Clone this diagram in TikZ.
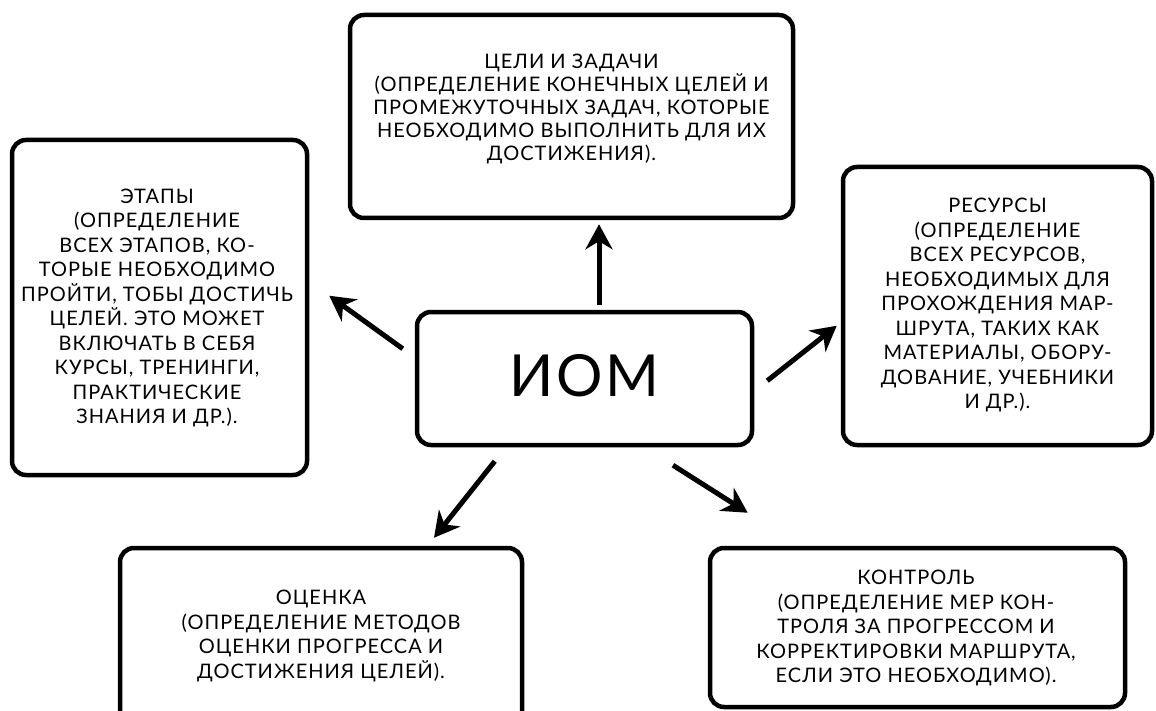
\documentclass[tikz,border=0pt]{standalone}
\usepackage{fontspec}
\setmainfont{Lato}[LetterSpace=5]
\usetikzlibrary{arrows.meta,calc}
\tikzset{
  frame/.style={draw=black, line width=4.5pt, rounded corners=14pt, fill=white, inner sep=0pt},
  txt/.style={align=center, font=\fontsize{20}{24.5}\selectfont, inner sep=0pt},
  txttop/.style={align=center, font=\fontsize{20}{23}\selectfont, inner sep=0pt},
  arr/.style={line width=5pt, -{Stealth[length=25pt,width=27pt,inset=8pt]}}
}
\begin{document}
\begin{tikzpicture}[x=1pt,y=-1pt]
\useasboundingbox[fill=white] (0,0) rectangle (1156,711);
% frames
\node[frame, minimum width=443pt, minimum height=203pt] (t) at (571.5,116.5) {};
\node[frame, minimum width=295pt, minimum height=335pt] (l) at (159.5,307.5) {};
\node[frame, minimum width=335pt, minimum height=133pt] (c) at (584.5,378.5) {};
\node[frame, minimum width=309pt, minimum height=278pt] (r) at (997.5,306) {};
\node[frame, minimum width=402pt, minimum height=180pt] (bl) at (321,638) {};
\node[frame, minimum width=415pt, minimum height=159pt] (br) at (917.5,627.5) {};
% texts
\node[txttop] (tt) at (571.5,109) {ЦЕЛИ И ЗАДАЧИ\\(ОПРЕДЕЛЕНИЕ КОНЕЧНЫХ ЦЕЛЕЙ И\\ПРОМЕЖУТОЧНЫХ ЗАДАЧ, КОТОРЫЕ\\НЕОБХОДИМО ВЫПОЛНИТЬ ДЛЯ ИХ\\ДОСТИЖЕНИЯ).};
\node[txt] (lt) at (157,308) {ЭТАПЫ\\(ОПРЕДЕЛЕНИЕ\\ВСЕХ ЭТАПОВ, КО-\\ТОРЫЕ НЕОБХОДИМО\\ПРОЙТИ, ТОБЫ ДОСТИЧЬ\\ЦЕЛЕЙ. ЭТО МОЖЕТ\\ВКЛЮЧАТЬ В СЕБЯ\\КУРСЫ, ТРЕНИНГИ,\\ПРАКТИЧЕСКИЕ\\ЗНАНИЯ И ДР.).};
\node[font=\fontsize{58}{60}\selectfont, inner sep=0pt] (ct) at (584.5,376) {ИОМ};
\node[txt] (rt) at (997.5,305) {РЕСУРСЫ\\(ОПРЕДЕЛЕНИЕ\\ВСЕХ РЕСУРСОВ,\\НЕОБХОДИМЫХ ДЛЯ\\ПРОХОЖДЕНИЯ МАР-\\ШРУТА, ТАКИХ КАК\\МАТЕРИАЛЫ, ОБОРУ-\\ДОВАНИЕ, УЧЕБНИКИ\\И ДР.).};
\node[txt] (blt) at (321,636) {ОЦЕНКА\\(ОПРЕДЕЛЕНИЕ МЕТОДОВ\\ОЦЕНКИ ПРОГРЕССА И\\ДОСТИЖЕНИЯ ЦЕЛЕЙ).};
\node[txt] (brt) at (916,628) {КОНТРОЛЬ\\(ОПРЕДЕЛЕНИЕ МЕР КОН-\\ТРОЛЯ ЗА ПРОГРЕССОМ И\\КОРРЕКТИРОВКИ МАРШРУТА,\\ЕСЛИ ЭТО НЕОБХОДИМО).};
% arrows
\draw[arr] ($(c.north)+(14.5,-5)$) -- ($(t.south)+(27.5,4)$);
\draw[arr] ($(c.north west)+(-12,39)$) -- ($(l.north east)+(20,158)$);
\draw[arr] ($(c.north east)+(13,71)$) -- ($(r.north west)+(-4,161)$);
\draw[arr] ($(c.south west)+(80,14)$) -- ($(bl.north)+(113,-8)$);
\draw[arr] ($(c.south)+(88.5,18)$) -- ($(br.north west)+(40,-33)$);
\end{tikzpicture}
\end{document}
